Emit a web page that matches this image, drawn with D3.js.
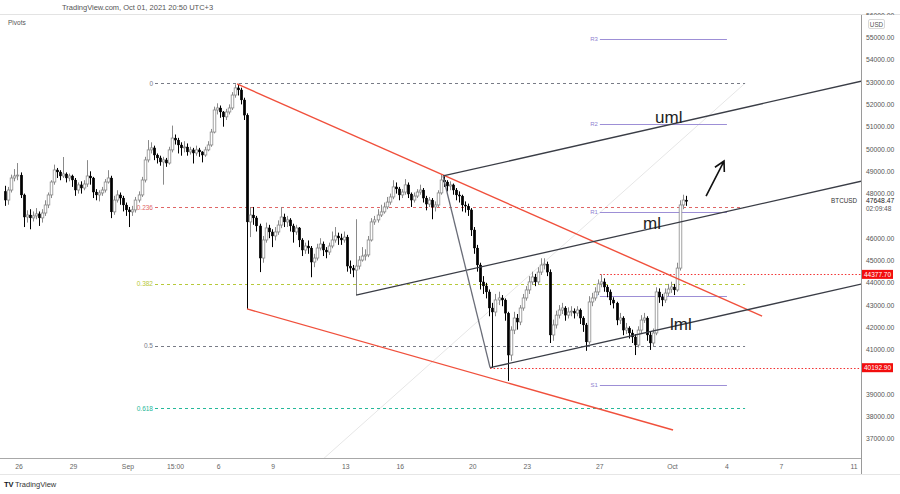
<!DOCTYPE html>
<html><head><meta charset="utf-8">
<script src="https://cdn.jsdelivr.net/npm/d3@7"></script>
<style>html,body{margin:0;padding:0;background:#fff;}svg{display:block;font-family:"Liberation Sans",Arial,sans-serif;}</style>
</head><body><svg id="c" width="900" height="494"></svg>
<script>
// ---------- DATA ----------
const candleStart = "2021-08-25T04:00"; // 4H candles
const firstOpen = 48100;
const closes = [
47710,48160,48700,48790,48830,47940,46950,47040,46910,47000,
47090,46910,47130,47490,47940,48520,49060,48970,48790,48880,
48700,48790,48610,48160,48390,48250,48430,48790,48700,48070,
47940,48030,48160,48520,48700,47180,47710,47940,47800,47490,
47270,47180,47270,47710,47940,48610,49510,49960,50050,49730,
49600,49420,49510,49370,49960,50490,50400,50180,50050,50090,
49870,49960,49820,49960,49870,49730,49960,50180,50760,51750,
51840,51660,51440,51660,51840,52420,52740,52650,52200,51520,
46730,47040,46910,46550,45110,45920,46460,46280,46100,46280,
46590,46950,46730,46820,46550,46280,46460,45920,45470,45650,
45560,44930,45110,45560,45740,45470,45380,45650,45920,46100,
46010,45920,46050,44750,44660,44570,44750,45020,45200,45250,
45920,46730,46820,47040,47180,47400,47620,47850,48300,48210,
47940,48070,48390,47980,47710,47890,48070,48160,47800,47530,
47710,47400,47490,48030,48610,48520,48340,48390,48160,47940,
47890,47490,47440,47270,46370,45560,44800,44040,43860,43590,
42870,42690,43230,43320,43230,42640,40760,41880,42420,42240,
42870,43320,43680,44040,44260,44040,44480,44800,44840,44480,
41660,42110,42550,42780,42870,42550,42690,42730,42640,42780,
42420,42110,41350,43140,43320,43590,43950,44040,43810,43590,
43230,43090,42330,42420,41880,41970,41750,41570,41210,41880,
42330,42420,41660,41300,41750,43590,43360,43230,43540,43720,
43810,43680,44660,47490,47710,47648.47];
const highs = [
48350,48300,48850,49100,49370,48950,48000,47250,47300,47200,
47350,47200,47300,47700,48050,48600,49300,49150,49050,49640,
48950,48900,48850,48700,48500,48550,48600,49500,49000,48750,
48200,48150,48300,48650,49050,48800,47900,48150,48050,47900,
47600,47400,47450,47850,48100,48750,49650,50400,50300,50150,
49800,49700,49650,49600,50100,51050,50650,50500,50300,50350,
50250,50100,50050,50150,50050,49900,50100,50350,50900,51900,
52050,51950,51700,51800,52000,52550,52900,52920,52750,52300,
51600,47400,47400,47000,46650,46100,46700,46600,46400,46500,
46800,47400,47100,47000,46900,46650,46600,46500,46000,45800,
45900,45650,45300,45750,46000,45850,45600,45800,46300,46500,
46250,46200,46300,46150,45000,44800,46850,45200,45600,45500,
46100,46900,47000,47300,47500,47600,47850,48000,48600,48500,
48300,48200,48650,48500,48050,48050,48200,48400,48250,47900,
47850,47800,47650,48150,48850,48780,48600,48550,48450,48250,
48100,47950,47650,47550,47350,46500,45700,44900,44300,44000,
43700,43100,43500,43600,43450,43300,42700,42050,42700,42600,
43000,43500,43850,44300,44500,44400,44700,45100,45100,44950,
44600,42350,42750,43000,43100,42950,42900,42950,42850,42950,
42850,42500,42200,43400,43550,43800,44150,44378,44200,43900,
43700,43350,43150,42650,42500,42200,42050,41900,41700,42050,
42550,42650,42500,41800,41950,43800,43750,43500,43750,43950,
44050,43950,44900,47700,47950,47900];
const lows = [
47450,47500,48050,48550,48600,47800,46500,46700,46400,46750,
46850,46550,46700,47000,47350,47800,48400,48700,48600,48700,
48500,48550,48300,47900,48000,48000,48150,48300,48400,47800,
47700,47650,47900,48050,48450,46900,47050,47600,47500,47200,
47000,46500,47000,47150,47600,47850,48500,49400,49800,49500,
49350,49250,48400,49200,49300,49850,50200,49800,49700,49850,
49700,49750,49350,49700,49650,49400,49650,49900,50100,50700,
51550,51400,51000,51300,51550,51750,52300,52400,52000,51300,
42830,46050,46600,46300,44480,44900,45800,46000,45600,45900,
46150,46450,46500,46500,46300,45800,46150,45600,45200,45300,
45300,44250,44700,45000,45450,45200,45100,45250,45550,45800,
45700,45700,45800,44500,44400,44250,43450,44600,44950,45000,
45150,45850,46600,46700,46950,47100,47300,47500,47750,48000,
47700,47800,47950,47800,47400,47600,47800,47950,47600,47250,
47400,46850,47200,47400,47950,48300,48100,48150,47950,47700,
47600,47200,47150,47000,46100,45300,44500,43700,43500,43300,
42500,40193,42500,43000,42950,42300,39600,40500,41700,41900,
42100,42750,43200,43500,43900,43850,43900,44350,44600,44300,
41300,41400,41950,42400,42600,42300,42400,42500,42400,42500,
42150,41800,40950,41250,42950,43200,43450,43800,43600,43350,
43000,42850,42100,42150,41650,41700,41500,41300,40760,41100,
41750,42200,41400,40990,41150,41650,43100,42950,43100,43400,
43550,43450,43600,44550,47300,47450];

// price-axis labels (40000 and 47000 sit under the price tags in the reference)
const priceTicks = [37000,38000,39000,41000,42000,43000,44000,45000,46000,48000,49000,50000,51000,52000,53000,54000,55000,56000];
const timeTicks = [["2021-08-26T00:00","26"],["2021-08-29T00:00","29"],["2021-09-01T00:00","Sep"],["2021-09-03T15:00","15:00"],["2021-09-06T00:00","6"],["2021-09-09T00:00","9"],["2021-09-13T00:00","13"],["2021-09-16T00:00","16"],["2021-09-20T00:00","20"],["2021-09-23T00:00","23"],["2021-09-27T00:00","27"],["2021-10-01T00:00","Oct"],["2021-10-04T00:00","4"],["2021-10-07T00:00","7"],["2021-10-11T00:00","11"]];

// Fibonacci retracement
const fibHigh = 52950, fibLow = 29382;
const fibStart = "2021-09-02T11:50", fibEnd = "2021-10-05T00:00";
const fibRatios = [0, 0.236, 0.382, 0.5, 0.618];
const fibLabels = ["0", "0.236", "0.382", "0.5", "0.618"];
const fibColors = ["#787b86", "#e06666", "#b7c93a", "#787b86", "#26b89a"];

// Weekly pivots
const pivotNames = ["R3", "R2", "R1", "P", "S1"];
const pivotValues = [54930, 51120, 47180, 43410, 39420];
const pivotFrom = "2021-09-27T00:00", pivotTo = "2021-10-04T00:00";

// Trend lines [time, price] pairs
const redLines = [
  [["2021-09-07T00:15", 52920], ["2021-10-05T22:30", 42510]],
  [["2021-09-07T13:30", 42830], ["2021-10-01T00:45", 37400]]
];
const forkLines = [
  [["2021-09-18T08:40", 48790], ["2021-10-11T10:50", 53050]],
  [["2021-09-13T13:40", 43450], ["2021-10-11T10:50", 48565]],
  [["2021-09-20T22:50", 40193], ["2021-10-11T10:50", 43950]],
  [["2021-09-18T08:40", 48790], ["2021-09-20T22:50", 40193]]
];
const forkTexts = [["uml", "2021-09-30T01:00", 51170], ["ml", "2021-09-29T09:10", 46410], ["lml", "2021-09-30T20:50", 41880]];
const arrowPts = [["2021-10-02T20:25", 47890], ["2021-10-03T20:10", 49460]];
const levelLines = [["2021-09-27T00:00", 44377.70], ["2021-09-20T22:50", 40192.90]];
const lastPrice = 47648.47, countdown = "02:09:48";

// ---------- DRAW ----------
const parse = d3.timeParse("%Y-%m-%dT%H:%M");
const svg = d3.select("#c");
const PR = 861, PT = 15, PB = 458;
const x = d3.scaleTime().domain([parse("2021-08-26T00:00"), parse("2021-10-11T00:00")]).range([19, 854]);
const y = d3.scaleLinear().domain([37000, 55000]).range([438.9, 37.5]);

svg.append("defs").append("clipPath").attr("id","pc").append("rect")
  .attr("x",0).attr("y",PT).attr("width",PR).attr("height",PB-PT);

// header
svg.append("text").attr("x",62).attr("y",10).attr("font-size",7.5).attr("fill","#555")
  .text("TradingView.com, Oct 01, 2021 20:50 UTC+3");
svg.append("line").attr("x1",0).attr("x2",900).attr("y1",14.5).attr("y2",14.5).attr("stroke","#e3e3e3");
svg.append("text").attr("x",8).attr("y",25).attr("font-size",6.5).attr("fill","#555").text("Pivots");

const g = svg.append("g").attr("clip-path","url(#pc)");

// fib
const fy = r => fibHigh - r*(fibHigh - fibLow);
g.append("line").attr("x1",x(parse(fibStart))).attr("y1",y(fibLow)).attr("x2",x(parse(fibEnd))).attr("y2",y(fibHigh))
  .attr("stroke","#e6e6e6").attr("stroke-width",1);
fibRatios.forEach((r,i)=>{
  g.append("line").attr("x1",x(parse(fibStart))).attr("x2",x(parse(fibEnd)))
   .attr("y1",Math.round(y(fy(r)))+0.5).attr("y2",Math.round(y(fy(r)))+0.5)
   .attr("stroke",fibColors[i]).attr("stroke-dasharray","3,3").attr("stroke-width",1);
  svg.append("text").attr("x",x(parse(fibStart))-2).attr("y",y(fy(r))+2.5).attr("text-anchor","end")
   .attr("font-size",6.5).attr("fill",fibColors[i]).text(fibLabels[i]);
});

// pivots
pivotValues.forEach((v,i)=>{
  g.append("line").attr("x1",x(parse(pivotFrom))).attr("x2",x(parse(pivotTo)))
   .attr("y1",Math.round(y(v))+0.5).attr("y2",Math.round(y(v))+0.5).attr("stroke","#9d8fd6").attr("stroke-width",1);
  g.append("text").attr("x",x(parse(pivotFrom))-2).attr("y",y(v)+2.3).attr("text-anchor","end")
   .attr("font-size",6).attr("fill","#8f7fd0").text(pivotNames[i]);
});

// red dotted levels
levelLines.forEach(([t,v])=>{
  g.append("line").attr("x1",x(parse(t))).attr("x2",PR).attr("y1",Math.round(y(v))+0.5).attr("y2",Math.round(y(v))+0.5)
   .attr("stroke","#f23030").attr("stroke-dasharray","1.5,2").attr("stroke-width",1.2);
});

// candles
const t0 = parse(candleStart);
const candles = closes.map((c,i)=>({t:d3.timeHour.offset(t0,4*i+2), o:i?closes[i-1]:firstOpen, h:highs[i], l:lows[i], c}));
const cg = g.append("g");
candles.forEach(d=>{
  const cx = Math.round(x(d.t));
  const up = d.c >= d.o;
  const col = up ? "#8a8a8a" : "#000";
  cg.append("line").attr("x1",cx+0.5).attr("x2",cx+0.5).attr("y1",y(Math.max(d.h,d.o,d.c))).attr("y2",y(Math.min(d.l,d.o,d.c)))
    .attr("stroke",col).attr("stroke-width",1);
  const top = y(Math.max(d.o,d.c)), bot = y(Math.min(d.o,d.c));
  cg.append("rect").attr("x",cx-0.8).attr("width",2.6).attr("y",top).attr("height",Math.max(0.8,bot-top))
    .attr("fill",up?"#fff":"#000").attr("stroke",col).attr("stroke-width",up?0.8:0.3);
});

// red channel
redLines.forEach(l=>{
  g.append("line").attr("x1",x(parse(l[0][0]))).attr("y1",y(l[0][1])).attr("x2",x(parse(l[1][0]))).attr("y2",y(l[1][1]))
   .attr("stroke","#f0503c").attr("stroke-width",1.4);
});
// pitchfork
forkLines.forEach((l,i)=>{
  g.append("line").attr("x1",x(parse(l[0][0]))).attr("y1",y(l[0][1])).attr("x2",x(parse(l[1][0]))).attr("y2",y(l[1][1]))
   .attr("stroke", i===3 ? "#6a6d78" : "#3a3d46").attr("stroke-width",1.3);
});
forkTexts.forEach(([s,t,v])=>{
  g.append("text").attr("x",x(parse(t))).attr("y",y(v)).attr("font-size",17).attr("fill","#1e1e1e").text(s);
});
// arrow
const a0 = [x(parse(arrowPts[0][0])), y(arrowPts[0][1])], a1 = [x(parse(arrowPts[1][0])), y(arrowPts[1][1])];
const ang = Math.atan2(a1[1]-a0[1], a1[0]-a0[0]);
const hl = 11, ha = 0.5;
g.append("path").attr("d",`M${a0[0]},${a0[1]}L${a1[0]},${a1[1]}M${a1[0]-hl*Math.cos(ang-ha)},${a1[1]-hl*Math.sin(ang-ha)}L${a1[0]},${a1[1]}L${a1[0]-hl*Math.cos(ang+ha)},${a1[1]-hl*Math.sin(ang+ha)}`)
  .attr("fill","none").attr("stroke","#111").attr("stroke-width",1.6);

// right axis
svg.append("line").attr("x1",PR+0.5).attr("x2",PR+0.5).attr("y1",PT).attr("y2",474).attr("stroke","#9a9a9a");
const ra = svg.append("g");
priceTicks.forEach(v=>{
  ra.append("text").attr("x",866).attr("y",y(v)+2.5).attr("font-size",6.8).attr("fill","#555").text(v.toFixed(2));
});
// USD box
svg.append("rect").attr("x",862).attr("y",15).attr("width",38).attr("height",5).attr("fill","#fff");
svg.append("rect").attr("x",868.5).attr("y",19.5).attr("width",16).attr("height",9).attr("rx",1.5).attr("fill","#fff").attr("stroke","#d8d8d8");
svg.append("text").attr("x",876.5).attr("y",26.5).attr("text-anchor","middle").attr("font-size",6.3).attr("fill","#555").text("USD");
// level labels
levelLines.forEach(([t,v])=>{
  svg.append("rect").attr("x",PR+1).attr("y",y(v)-4.5).attr("width",31).attr("height",9).attr("fill","#f20d0d");
  svg.append("text").attr("x",PR+16.5).attr("y",y(v)+2.4).attr("text-anchor","middle").attr("font-size",6.5).attr("fill","#fff").text(v.toFixed(2));
});
// last price
svg.append("rect").attr("x",PR+1).attr("y",y(lastPrice)-5).attr("width",30).attr("height",15).attr("fill","#fff");
svg.append("text").attr("x",866).attr("y",y(lastPrice)+2).attr("font-size",6.8).attr("fill","#222").text(lastPrice.toFixed(2));
svg.append("text").attr("x",866).attr("y",y(lastPrice)+9.5).attr("font-size",6.5).attr("fill","#555").text(countdown);
svg.append("text").attr("x",857).attr("y",y(lastPrice)+2).attr("text-anchor","end").attr("font-size",6.3).attr("fill","#333").text("BTCUSD");

// bottom axis
svg.append("line").attr("x1",0).attr("x2",PR).attr("y1",PB+0.5).attr("y2",PB+0.5).attr("stroke","#a8a8a8");
svg.append("line").attr("x1",0).attr("x2",900).attr("y1",474.5).attr("y2",474.5).attr("stroke","#e6e6e6");
timeTicks.forEach(([t,s])=>{
  svg.append("text").attr("x",x(parse(t))).attr("y",469).attr("text-anchor","middle").attr("font-size",6.8).attr("fill","#666").text(s);
});
// logo
svg.append("text").attr("x",4).attr("y",487).attr("font-size",7.5).attr("font-weight","bold").attr("fill","#131722").text("TV");
svg.append("text").attr("x",15).attr("y",487).attr("font-size",7.5).attr("fill","#333").text("TradingView");
</script></body></html>
